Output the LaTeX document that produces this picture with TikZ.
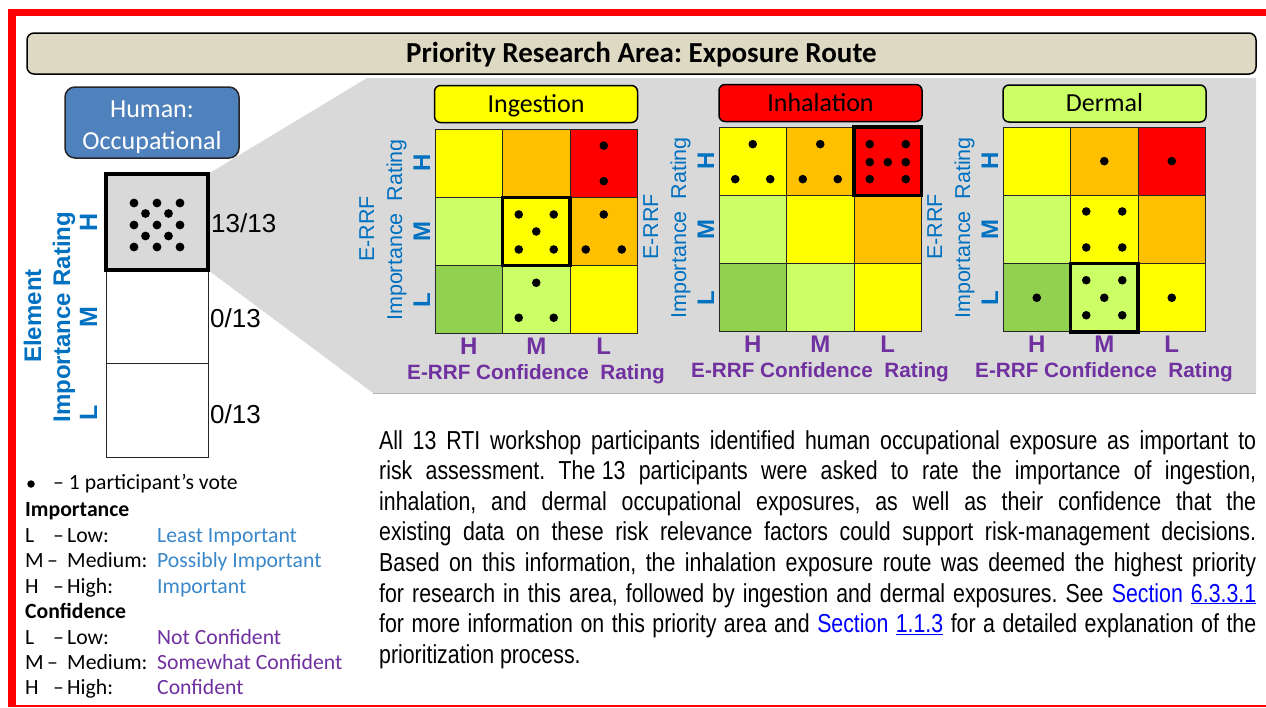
\documentclass[tikz,border=0pt]{standalone}
\usepackage{fontspec}
\setmainfont{Carlito}
\newfontfamily\arialf{Liberation Sans}
\newfontfamily\narrowf[FakeStretch=0.82]{Liberation Sans}
\definecolor{rc0}{HTML}{92D050}
\definecolor{rc1}{HTML}{CCFF66}
\definecolor{rc2}{HTML}{FFFF00}
\definecolor{rc3}{HTML}{FFC000}
\definecolor{rc4}{HTML}{FF0000}
\definecolor{panelgray}{HTML}{D9D9D9}
\definecolor{titlebeige}{HTML}{DDD9C3}
\definecolor{humanblue}{HTML}{4F81BD}
\definecolor{eblue}{HTML}{0070C0}
\definecolor{legblue}{HTML}{3A87C9}
\definecolor{epurple}{HTML}{7030A0}
\definecolor{linkblue}{HTML}{0000FF}
\newcommand\fsz[1]{\fontsize{#1}{#1}\selectfont}
\frenchspacing

\tikzset{
  cell/.style={draw=black!85, line width=1pt, minimum width=67.5pt, minimum height=68.3pt, inner sep=0, outer sep=0},
  lcell/.style={draw=black!85, line width=1pt, minimum width=102pt, inner sep=0, outer sep=0},
  hl/.style={draw=black, line width=3.5pt},
  rlab/.style={rotate=90, anchor=base, inner sep=0},
  blab/.style={anchor=base, inner sep=0},
  rtitle/.style={draw=black, line width=1.5pt, rounded corners=6pt, minimum width=203pt, minimum height=37pt, inner sep=0, text height=16.7pt, text depth=0pt, font=\fsz{26}},
  leg/.style={anchor=base west, inner sep=0, font=\fsz{21.7}},
  para/.style={anchor=base west, inner sep=0, font=\narrowf\fsz{26}},
}

\newcommand\riskgrid[3]{%
  \foreach \r/\rn in {0/H,1/M,2/L}{%
    \foreach \c/\cn in {0/H,1/M,2/L}{%
      \pgfmathtruncatemacro\k{\c-\r+2}%
      \node[cell, fill=rc\k] (#1-\rn\cn) at ({#2+(\c+0.5)*67.5},{#3+(\r+0.5)*68.3}) {};
    }%
  }%
}
\newcommand\gridlabels[3]{%
  \node[rlab, font=\arialf\fsz{21.5}, text=eblue] (#1-erff) at ({#2-61},{#3+100}) {E-RRF};
  \node[rlab, font=\arialf\fsz{21.5}, text=eblue] (#1-imp) at ({#2-33},{#3+101}) {Importance~ Rating};
  \foreach \r/\rn in {0/H,1/M,2/L}{%
    \node[rlab, font=\arialf\bfseries\fsz{24}, text=eblue] (#1-r\rn) at ({#2-5},{#3+(\r+0.5)*68.3}) {\rn};
  }%
  \foreach \c/\cn in {0/H,1/M,2/L}{%
    \node[blab, font=\arialf\bfseries\fsz{24}, text=epurple] (#1-c\cn) at ({#2+(\c+0.5)*67.5},{#3+225}) {\cn};
  }%
  \node[blab, font=\arialf\bfseries\fsz{20.7}, text=epurple] (#1-conf) at ({#2+101},{#3+250}) {E-RRF Confidence~ Rating};
}
\newcommand\votes[2]{%
  \foreach \dx/\dy in {#2}{\fill ([shift={(\dx,\dy)}]#1.center) circle (4.3);}%
}
\newcommand\legrow[7]{%
  \node[leg] (#1l) at (25,#2) {#3};
  \node[leg] (#1d) at (#4,#2) {–};
  \node[leg] (#1w) at (67,#2) {#5};
  \node[leg, text=#7] (#1e) at (157,#2) {#6};
}

\begin{document}
\begin{tikzpicture}[x=1pt,y=-1pt]
\useasboundingbox (0,0) rectangle (1266,707);
\fill[white] (0,0) rectangle (1266,707);

% red frame
\fill[red] (8,9) rectangle (1266,16);
\fill[red] (8,9) rectangle (16,707);
\fill[red] (8,705) rectangle (1266,707);

% gray callout panel
\fill[panelgray] (208,174) -- (367,78) -- (1256,78) -- (1256,393) -- (373,393) -- (208,270) -- cycle;
\draw[black!30, line width=1pt] (373,393) -- (1256,393);

% title bar
\node[draw=black, line width=1.5pt, fill=titlebeige, rounded corners=7pt, minimum width=1229pt, minimum height=41pt, inner sep=0, text height=18.7pt, text depth=0pt, font=\bfseries\fsz{29}] (title) at (641.5,53.5) {Priority Research Area: Exposure Route};

% human box
\node[draw=black!85, line width=1.5pt, fill=humanblue, rounded corners=10pt, minimum width=174pt, minimum height=71pt, inner sep=0] (human) at (152,122.5) {};
\node[blab, text=white, font=\fsz{26}] (human1) at (152,117) {Human:};
\node[blab, text=white, font=\fsz{26}] (human2) at (152,149) {Occupational};

% left column
\node[lcell, minimum height=93pt] (lM) at (157,316.5) {};
\node[lcell, minimum height=94pt] (lL) at (157,410) {};
\node[lcell, fill=panelgray, minimum height=96pt, line width=4pt, draw=black] (lH) at (157,222) {};
\foreach \dx/\dy in {-23/-19,0/-19,23/-19,-11.5/-8.5,11.5/-8.5,-23/3,0/3,23/3,-11.5/14,11.5/14,-23/25,0/25,23/25}{
  \fill ([shift={(\dx,\dy)}]lH.center) circle (4.4);
}
\node[anchor=base west, inner sep=0, font=\arialf\fsz{26}] (nH) at (211,232) {13/13};
\node[anchor=base west, inner sep=0, font=\arialf\fsz{26}] (nM) at (210,327) {0/13};
\node[anchor=base west, inner sep=0, font=\arialf\fsz{26}] (nL) at (210,423) {0/13};
\node[rlab, font=\arialf\bfseries\fsz{24}, text=eblue] (elem) at (41,316) {Element};
\node[rlab, font=\arialf\bfseries\fsz{24}, text=eblue] (eimp) at (70,317) {Importance Rating};
\node[rlab, font=\arialf\bfseries\fsz{25}, text=eblue] (erH) at (97,222) {H};
\node[rlab, font=\arialf\bfseries\fsz{25}, text=eblue] (erM) at (97,317) {M};
\node[rlab, font=\arialf\bfseries\fsz{25}, text=eblue] (erL) at (97,413) {L};

% Ingestion
\node[rtitle, fill=rc2] (ing-title) at (536,104) {Ingestion};
\riskgrid{ing}{435}{129}
\draw[hl] (ing-MM.north west) rectangle (ing-MM.south east);
\votes{ing-HL}{0/-17.5,0/18}
\votes{ing-MM}{-17.5/-17,17.5/-17,0/0,-17.5/18,17.5/18}
\votes{ing-ML}{0/-17,-18/18,18/18}
\votes{ing-LM}{0/-17,-17.5/18,17.5/18}
\gridlabels{ing}{435}{129}

% Inhalation
\node[rtitle, fill=rc4] (inh-title) at (820.5,103) {Inhalation};
\riskgrid{inh}{719}{127}
\draw[hl] (inh-HL.north west) rectangle (inh-HL.south east);
\votes{inh-HH}{0/-17,-17.5/18,17.5/18}
\votes{inh-HM}{0/-17,-17.5/18,17.5/18}
\votes{inh-HL}{-18/-17,18/-17,-18/1,0/1,18/1,-18/18,18/18}
\gridlabels{inh}{719}{127}

% Dermal
\node[rtitle, fill=rc1] (der-title) at (1104.5,103.5) {Dermal};
\riskgrid{der}{1003}{127}
\draw[hl] (der-LM.north west) rectangle (der-LM.south east);
\votes{der-HM}{0/0}
\votes{der-HL}{0/0}
\votes{der-MM}{-18/-18,18/-18,-18/18,18/18}
\votes{der-LH}{0/0}
\votes{der-LM}{-18/-17.5,18/-17.5,0/0,-18/17.5,18/17.5}
\votes{der-LL}{0/0}
\gridlabels{der}{1003}{127}

% legend
\node[circle, fill=black, inner sep=0, minimum size=7.5pt] (bul) at (31,484) {};
\node[leg] (vote) at (53,489.5) {– 1 participant’s vote};
\node[leg, font=\bfseries\fsz{21.7}] (impt) at (25,516.5) {Importance};
\legrow{il}{542.5}{L}{53}{Low:}{Least Important}{legblue}
\legrow{im}{567.5}{M}{47}{Medium:}{Possibly Important}{legblue}
\legrow{ih}{593.5}{H}{53}{High:}{Important}{legblue}
\node[leg, font=\bfseries\fsz{21.7}] (conft) at (25,618.5) {Confidence};
\legrow{cl}{644.5}{L}{53}{Low:}{Not Confident}{epurple}
\legrow{cm}{669.5}{M}{47}{Medium:}{Somewhat Confident}{epurple}
\legrow{ch}{694.5}{H}{53}{High:}{Confident}{epurple}

% paragraph
\node[para] (p1) at (379,449.0) {\hbox to 877pt{All 13 RTI workshop participants identified human occupational exposure as important to}};
\node[para] (p2) at (379,479.6) {\hbox to 877pt{risk assessment. The\kern0.25em 13 participants were asked to rate the importance of ingestion,}};
\node[para] (p3) at (379,510.2) {\hbox to 877pt{inhalation, and dermal occupational exposures, as well as their confidence that the}};
\node[para] (p4) at (379,540.8) {\hbox to 877pt{existing data on these risk relevance factors could support risk-management decisions.}};
\node[para] (p5) at (379,571.4) {\hbox to 877pt{Based on this information, the inhalation exposure route was deemed the highest priority}};
\node[para] (p6) at (379,602.0) {\hbox to 877pt{for research in this area, followed by ingestion and dermal exposures. See {\color{linkblue}Section \underline{6.3.3.1}}}};
\node[para] (p7) at (379,632.6) {\hbox to 877pt{for more information on this priority area and {\color{linkblue}Section \underline{1.1.3}} for a detailed explanation of the}};
\node[para] (p8) at (379,663.2) {prioritization process.};
\end{tikzpicture}
\end{document}
